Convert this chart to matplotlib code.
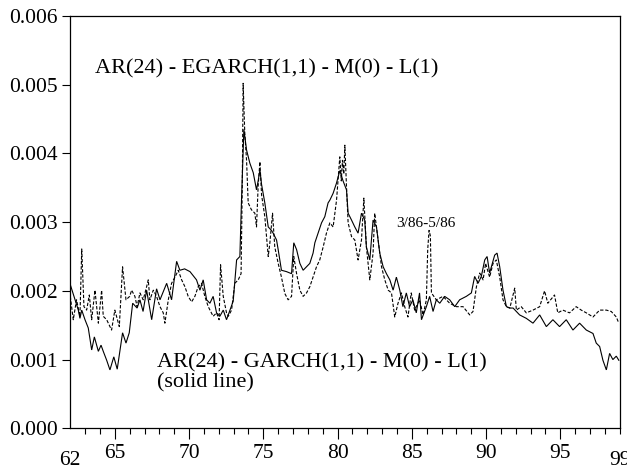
import numpy as np
import matplotlib
matplotlib.use("Agg")
import matplotlib.pyplot as plt
from matplotlib.ticker import FixedLocator, FormatStrFormatter

# ---- data (values in units of 0.001) ----
garch_t = [62.00, 62.32, 62.54, 62.65, 62.77, 62.99, 63.21, 63.44, 63.62, 63.89, 64.07, 64.22,
           64.45, 64.67, 64.93, 65.16, 65.52, 65.75, 65.97, 66.20, 66.50, 66.69, 66.90, 67.14,
           67.48, 67.81, 68.04, 68.49, 68.82, 69.16, 69.38, 69.70, 70.06, 70.50, 70.73, 70.95,
           71.18, 71.40, 71.62, 71.85, 72.07, 72.30, 72.52, 72.75, 72.97, 73.20, 73.42, 73.53,
           73.62, 73.69, 73.87, 74.09, 74.32, 74.54, 74.65, 74.77, 74.88, 75.10, 75.33, 75.55,
           75.66, 75.89, 76.00, 76.22, 76.56, 76.90, 77.05, 77.24, 77.46, 77.68, 77.91, 78.13,
           78.35, 78.47, 78.69, 78.92, 79.14, 79.36, 79.48, 79.70, 79.93, 80.15, 80.37, 80.60,
           80.71, 80.94, 81.16, 81.38, 81.61, 81.83, 81.94, 82.17, 82.39, 82.62, 82.84, 83.07,
           83.29, 83.52, 83.74, 83.96, 84.19, 84.40, 84.63, 84.85, 85.07, 85.30, 85.52, 85.65,
           85.98, 86.20, 86.43, 86.65, 86.88, 87.21, 87.55, 87.89, 88.22, 88.67, 89.01, 89.23,
           89.46, 89.68, 89.91, 90.07, 90.24, 90.58, 90.74, 90.92, 91.14, 91.37, 91.60, 91.82,
           92.26, 92.71, 93.16, 93.61, 94.06, 94.50, 94.95, 95.40, 95.85, 96.30, 96.75, 97.20,
           97.42, 97.65, 97.87, 98.10, 98.32, 98.54, 98.77, 98.94]
garch_v = [2.09, 1.87, 1.72, 1.60, 1.72, 1.58, 1.46, 1.14, 1.33, 1.12, 1.21, 1.12,
           0.99, 0.85, 1.04, 0.86, 1.39, 1.24, 1.39, 1.82, 1.75, 1.87, 1.70, 2.01,
           1.58, 2.03, 1.87, 2.11, 1.87, 2.43, 2.30, 2.32, 2.28, 2.16, 2.01, 2.16,
           1.87, 1.82, 1.92, 1.68, 1.63, 1.72, 1.58, 1.72, 1.85, 2.45, 2.50, 3.32,
           3.90, 4.35, 4.05, 3.86, 3.72, 3.47, 3.60, 3.76, 3.55, 3.28, 2.93, 2.88,
           2.84, 2.74, 2.60, 2.30, 2.28, 2.25, 2.70, 2.60, 2.40, 2.30, 2.35, 2.40,
           2.55, 2.70, 2.84, 2.99, 3.08, 3.28, 3.32, 3.42, 3.57, 3.75, 3.60, 3.47,
           3.13, 3.03, 2.93, 2.84, 3.13, 3.03, 2.64, 2.45, 3.03, 2.93, 2.55, 2.35,
           2.25, 2.16, 2.01, 2.20, 2.01, 1.77, 1.97, 1.77, 1.87, 1.68, 1.97, 1.58,
           1.77, 1.92, 1.70, 1.87, 1.82, 1.92, 1.87, 1.77, 1.87, 1.92, 1.97, 2.21,
           2.11, 2.21, 2.45, 2.50, 2.26, 2.52, 2.55, 2.35, 2.01, 1.77, 1.75, 1.75,
           1.65, 1.60, 1.53, 1.65, 1.48, 1.58, 1.48, 1.58, 1.43, 1.53, 1.43, 1.38,
           1.24, 1.19, 0.99, 0.85, 1.09, 1.00, 1.05, 0.99]

egarch_t = [62.00, 62.20, 62.42, 62.65, 62.77, 62.92, 63.10, 63.28, 63.44, 63.66, 63.89, 64.11,
            64.22, 64.45, 64.78, 65.00, 65.30, 65.52, 65.75, 66.00, 66.13, 66.35, 66.50, 66.69,
            66.91, 67.14, 67.25, 67.36, 67.59, 67.81, 68.04, 68.26, 68.37, 68.60, 68.82, 69.05,
            69.27, 69.50, 69.72, 69.94, 70.17, 70.39, 70.61, 70.84, 71.06, 71.29, 71.62, 71.85,
            72.02, 72.12, 72.30, 72.52, 72.64, 72.86, 73.08, 73.31, 73.50, 73.58, 73.64, 73.75,
            73.87, 73.98, 74.20, 74.43, 74.54, 74.65, 74.77, 74.88, 75.10, 75.33, 75.44, 75.62,
            75.77, 76.00, 76.22, 76.45, 76.67, 76.90, 77.05, 77.24, 77.46, 77.68, 77.91, 78.13,
            78.35, 78.58, 78.80, 79.03, 79.25, 79.48, 79.70, 79.93, 80.15, 80.25, 80.33, 80.42,
            80.49, 80.60, 80.71, 80.94, 81.16, 81.38, 81.61, 81.77, 81.94, 82.17, 82.39, 82.50,
            82.73, 82.96, 83.18, 83.41, 83.63, 83.85, 84.07, 84.30, 84.52, 84.74, 84.96, 85.19,
            85.52, 85.76, 85.98, 86.07, 86.16, 86.25, 86.32, 86.65, 87.10, 87.55, 88.00, 88.45,
            88.90, 89.12, 89.35, 89.57, 89.80, 89.97, 90.24, 90.47, 90.69, 90.92, 91.14, 91.37,
            91.60, 91.93, 92.04, 92.37, 92.71, 93.16, 93.61, 93.94, 94.16, 94.61, 94.83, 95.17,
            95.62, 96.07, 96.41, 96.75, 97.20, 97.65, 98.10, 98.43, 98.77, 98.94]
egarch_v = [1.92, 1.58, 1.87, 1.63, 2.61, 1.77, 1.72, 1.94, 1.58, 2.01, 1.53, 2.01,
            1.63, 1.58, 1.43, 1.72, 1.48, 2.35, 1.87, 1.92, 2.01, 1.92, 1.77, 1.97,
            1.87, 2.06, 2.16, 1.87, 2.01, 1.92, 1.77, 1.68, 1.53, 1.87, 2.11, 2.20,
            2.30, 2.16, 2.06, 1.92, 1.84, 1.92, 2.06, 2.11, 1.92, 1.77, 1.63, 1.68,
            1.58, 2.38, 1.92, 1.68, 1.63, 1.72, 2.11, 2.16, 2.25, 3.50, 5.02, 4.30,
            3.90, 3.28, 3.18, 3.13, 2.93, 3.52, 3.88, 3.40, 3.08, 2.50, 2.70, 3.13,
            2.64, 2.40, 2.20, 1.96, 1.87, 1.92, 2.50, 2.25, 2.01, 1.92, 1.97, 2.06,
            2.20, 2.35, 2.45, 2.64, 2.84, 2.99, 2.93, 3.32, 3.95, 3.60, 3.90, 3.70,
            4.12, 3.52, 2.99, 2.79, 2.74, 2.45, 2.74, 3.35, 2.64, 2.16, 2.55, 3.13,
            2.74, 2.35, 2.16, 2.01, 1.97, 1.62, 1.82, 1.97, 1.77, 1.62, 1.97, 1.72,
            1.87, 1.65, 1.87, 2.60, 2.88, 2.80, 1.97, 1.87, 1.92, 1.82, 1.77, 1.77,
            1.65, 1.70, 2.06, 2.26, 2.16, 2.40, 2.20, 2.40, 2.45, 2.20, 1.87, 1.77,
            1.75, 2.04, 1.72, 1.77, 1.68, 1.72, 1.77, 2.00, 1.82, 1.94, 1.68, 1.72,
            1.68, 1.77, 1.72, 1.68, 1.62, 1.72, 1.72, 1.70, 1.62, 1.53]

y_ticks = [0.000, 0.001, 0.002, 0.003, 0.004, 0.005, 0.006]
x_major = [65, 70, 75, 80, 85, 90, 95]
x_minor = list(range(63, 100))
x_end_labels = [62, 99]

label_top = "AR(24) - EGARCH(1,1) - M(0) - L(1)"
label_bottom = "AR(24) - GARCH(1,1) - M(0) - L(1)"
label_bottom2 = "(solid line)"
label_spike = "3/86-5/86"

# ---- figure ----
plt.rcParams['font.family'] = ['Liberation Serif', 'DejaVu Serif']
fig = plt.figure(figsize=(6.27, 4.71), dpi=100)
ax = fig.add_axes([70.3 / 627, 1 - 428.3 / 471, (620 - 70.3) / 627, (428.3 - 16) / 471])

ax.plot(garch_t, np.array(garch_v) * 1e-3, color='black', lw=0.8, solid_joinstyle='miter')
ax.plot(egarch_t, np.array(egarch_v) * 1e-3, color='black', lw=0.8, linestyle=(0, (3, 1.6)))

ax.set_xlim(62, 99.02)
ax.set_ylim(0, 0.006)

ax.yaxis.set_major_locator(FixedLocator(y_ticks))
ax.yaxis.set_major_formatter(FormatStrFormatter('%.3f'))
ax.xaxis.set_major_locator(FixedLocator(x_major))
ax.xaxis.set_minor_locator(FixedLocator(x_minor))
ax.xaxis.set_major_formatter(FormatStrFormatter('%d'))

ax.tick_params(axis='y', which='major', direction='out', length=6, width=0.8,
               labelsize=15.5, pad=3, right=False)
ax.tick_params(axis='x', which='major', direction='out', length=8, width=0.8,
               labelsize=15.5, pad=3, top=False)
ax.tick_params(axis='x', which='minor', direction='out', length=4, width=0.8, top=False)
for s in ax.spines.values():
    s.set_linewidth(0.9)

for yr in x_end_labels:
    ax.annotate(str(yr), xy=(yr, 0), xycoords=('data', 'axes fraction'),
                xytext=(0, -16), textcoords='offset points', ha='center', va='top',
                fontsize=15.5, annotation_clip=False)

ax.text(63.66, 5.17e-3, label_top, fontsize=16, ha='left', va='baseline')
ax.text(67.84, 0.892e-3, label_bottom, fontsize=16, ha='left', va='baseline')
ax.text(67.84, 0.587e-3, label_bottom2, fontsize=16, ha='left', va='baseline')
ax.text(83.98, 2.93e-3, label_spike, fontsize=11, ha='left', va='baseline')

fig.savefig("out.png", dpi=100)
